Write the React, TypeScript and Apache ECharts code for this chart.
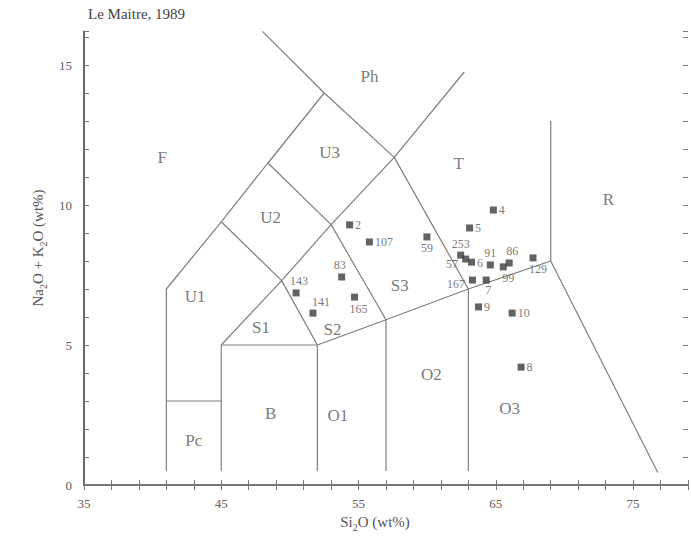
import React, { useEffect, useRef } from "react";
import * as echarts from "echarts";

// Axis extents (SiO2 wt%, Na2O+K2O wt%)
const X_MIN = 35;
const X_MAX = 79;
const Y_MIN = 0;
const Y_MAX = 16.2;
const X_LABEL_STEP = 10;
const Y_LABEL_STEP = 5;

// TAS field boundaries (Le Maitre, 1989)
const boundaryFoidite = [[41, 0.5], [41, 7], [45, 9.4], [48.4, 11.5], [52.5, 14], [48.0, 16.2]];
const boundaryPhonolite = [[52.5, 14], [57.6, 11.7], [63, 7]];
const boundaryPicro = [[41, 3], [45, 3]];
const boundaryBase = [[45, 0.5], [45, 5], [52, 5], [57, 5.9], [63, 7], [69, 8], [76.8, 0.45]];
const boundaryB_O1 = [[52, 0.5], [52, 5]];
const boundaryO1_O2 = [[57, 0.5], [57, 5.9]];
const boundaryO2_O3 = [[63, 0.5], [63, 7]];
const boundaryT_R = [[69, 8], [69, 13]];
const boundaryS1 = [[45, 5], [49.4, 7.3], [52, 5]];
const boundaryU_S = [[45, 9.4], [49.4, 7.3], [53, 9.3], [57.6, 11.7], [62.7, 14.75]];
const boundaryU2_U3_S3 = [[48.4, 11.5], [53, 9.3], [57, 5.9]];

const boundaries = [
  boundaryFoidite, boundaryPhonolite, boundaryPicro, boundaryBase, boundaryB_O1,
  boundaryO1_O2, boundaryO2_O3, boundaryT_R, boundaryS1, boundaryU_S, boundaryU2_U3_S3,
];

// Field names and their label positions
const fieldNames = ["F", "Ph", "U3", "U2", "T", "R", "U1", "S1", "S2", "S3", "B", "O1", "O2", "O3", "Pc"];
const fieldX = [40.7, 55.8, 52.9, 48.6, 62.3, 73.2, 43.1, 47.9, 53.1, 58.0, 48.6, 53.5, 60.3, 66.0, 43.0];
const fieldY = [11.7, 14.6, 11.86, 9.54, 11.5, 10.2, 6.75, 5.64, 5.54, 7.14, 2.57, 2.5, 3.93, 2.75, 1.6];

// Samples
const sampleNames = ["2", "107", "59", "4", "5", "253", "57", "6", "91", "99", "86", "129", "167", "7", "9", "10", "8", "83", "143", "141", "165"];
const sampleSiO2 = [54.35, 55.79, 59.98, 64.82, 63.09, 62.44, 62.8, 63.23, 64.6, 65.54, 65.97, 67.71, 63.3, 64.3, 63.74, 66.19, 66.84, 53.77, 50.45, 51.68, 54.71];
const sampleAlk = [9.29, 8.68, 8.86, 9.82, 9.18, 8.21, 8.07, 7.96, 7.86, 7.79, 7.93, 8.11, 7.32, 7.32, 6.36, 6.14, 4.21, 7.43, 6.86, 6.14, 6.71];
const sampleLabelPos = ["right", "right", "bottom", "right", "right", "top", "left", "right", "top", "bottom", "top", "bottom", "left", "bottom", "right", "right", "right", "top", "top", "top", "bottom"];
const sampleLabelOffset = [[0, 0], [0, 0], [0, 0], [0, 0], [0, 0], [0, 0], [-2, 5], [0, 1], [0, 0], [5, 0], [3, 0], [5, 0], [-2, 4], [2, -2], [0, 0], [0, 0], [0, 0], [-2, 0], [3, 0], [8, 0], [4, 0]];

const SERIF = '"Liberation Serif", "DejaVu Serif", serif';
const TEXT_COLOR = "#555555";

export default function App() {
  const ref = useRef<HTMLDivElement>(null);

  useEffect(() => {
    if (!ref.current) return;
    const chart = echarts.init(ref.current, undefined, { renderer: "svg" });

    const axisLine = { show: true, lineStyle: { color: "#6f6f6f", width: 1.6 } };
    const tick = { show: true, inside: true, length: 5, lineStyle: { color: "#777", width: 1 } };

    const boundarySeries = boundaries.map((pts) => ({
      type: "line",
      data: pts,
      symbol: "none",
      silent: true,
      lineStyle: { color: "#7e7e7e", width: 1.2 },
      itemStyle: { color: "#7e7e7e" },
      z: 1,
    }));

    const fieldSeries = {
      type: "scatter",
      silent: true,
      symbolSize: 0,
      itemStyle: { color: TEXT_COLOR },
      data: fieldNames.map((n, i) => ({
        name: n,
        value: [fieldX[i], fieldY[i]],
        label: { color: TEXT_COLOR },
      })),
      label: {
        show: true,
        position: "inside",
        formatter: (p: any) => p.name,
        fontFamily: SERIF,
        fontSize: 17,
        color: TEXT_COLOR,
      },
      z: 2,
    };

    const sampleSeries = {
      type: "scatter",
      symbol: "rect",
      symbolSize: 7,
      itemStyle: { color: "#3c3c3c" },
      data: sampleNames.map((n, i) => ({
        name: n,
        value: [sampleSiO2[i], sampleAlk[i]],
        label: {
          show: true,
          position: sampleLabelPos[i],
          offset: sampleLabelOffset[i],
          color: TEXT_COLOR,
          fontFamily: SERIF,
          fontSize: 12,
          distance: 2,
        },
      })),
      label: {
        show: true,
        formatter: (p: any) => p.name,
        fontFamily: SERIF,
        fontSize: 12,
        color: TEXT_COLOR,
        distance: 2,
      },
      z: 3,
    };

    chart.setOption({
      animation: false,
      backgroundColor: "#ffffff",
      grid: { left: 84, top: 31.4, width: 609.4, height: 453.6, containLabel: false },
      xAxis: [
        {
          type: "value",
          min: X_MIN,
          max: X_MAX,
          interval: 2,
          position: "bottom",
          axisLine,
          axisTick: tick,
          splitLine: { show: false },
          axisLabel: {
            margin: 12,
            fontFamily: SERIF,
            fontSize: 13,
            color: "#606060",
            formatter: (v: number) => ((v - X_MIN) % X_LABEL_STEP === 0 && v < X_MAX ? String(v) : ""),
          },
        },
        {
          type: "value",
          min: X_MIN,
          max: X_MAX,
          interval: 2,
          position: "top",
          axisLine,
          axisTick: tick,
          splitLine: { show: false },
          axisLabel: { show: false },
        },
      ],
      yAxis: [
        {
          type: "value",
          min: Y_MIN,
          max: Y_MAX,
          interval: 1,
          position: "left",
          axisLine: { show: true, lineStyle: { color: "#666", width: 2 } },
          axisTick: tick,
          splitLine: { show: false },
          axisLabel: {
            margin: 12,
            fontFamily: SERIF,
            fontSize: 13,
            color: "#606060",
            formatter: (v: number) => (Number.isInteger(v) && v % Y_LABEL_STEP === 0 ? String(v) : ""),
          },
        },
        {
          type: "value",
          min: Y_MIN,
          max: Y_MAX,
          interval: 1,
          position: "right",
          axisLine: { show: false },
          axisTick: tick,
          splitLine: { show: false },
          axisLabel: { show: false },
        },
      ],
      graphic: [
        {
          type: "text",
          left: 88,
          top: 6,
          style: { text: "Le Maitre, 1989", font: `15px ${SERIF}`, fill: "#444" },
        },
        {
          type: "text",
          x: 375,
          y: 522,
          style: {
            text: "{n|Si}{s|2}{n|O (wt%)}",
            align: "center",
            verticalAlign: "middle",
            rich: {
              n: { fontFamily: SERIF, fontSize: 15, lineHeight: 20, fill: TEXT_COLOR },
              s: { fontFamily: SERIF, fontSize: 10, lineHeight: 10, verticalAlign: "bottom", fill: TEXT_COLOR },
            },
          },
        },
        {
          type: "text",
          x: 38,
          y: 248,
          rotation: Math.PI / 2,
          style: {
            text: "{n|Na}{s|2}{n|O + K}{s|2}{n|O (wt%)}",
            align: "center",
            verticalAlign: "middle",
            rich: {
              n: { fontFamily: SERIF, fontSize: 15, lineHeight: 20, fill: TEXT_COLOR },
              s: { fontFamily: SERIF, fontSize: 10, lineHeight: 10, verticalAlign: "bottom", fill: TEXT_COLOR },
            },
          },
        },
      ],
      series: [...boundarySeries, fieldSeries, sampleSeries],
    } as any);

    return () => chart.dispose();
  }, []);

  return (
    <div
      ref={ref}
      style={{ position: "absolute", left: 0, top: 0, width: 691, height: 542, background: "#fff" }}
    />
  );
}
